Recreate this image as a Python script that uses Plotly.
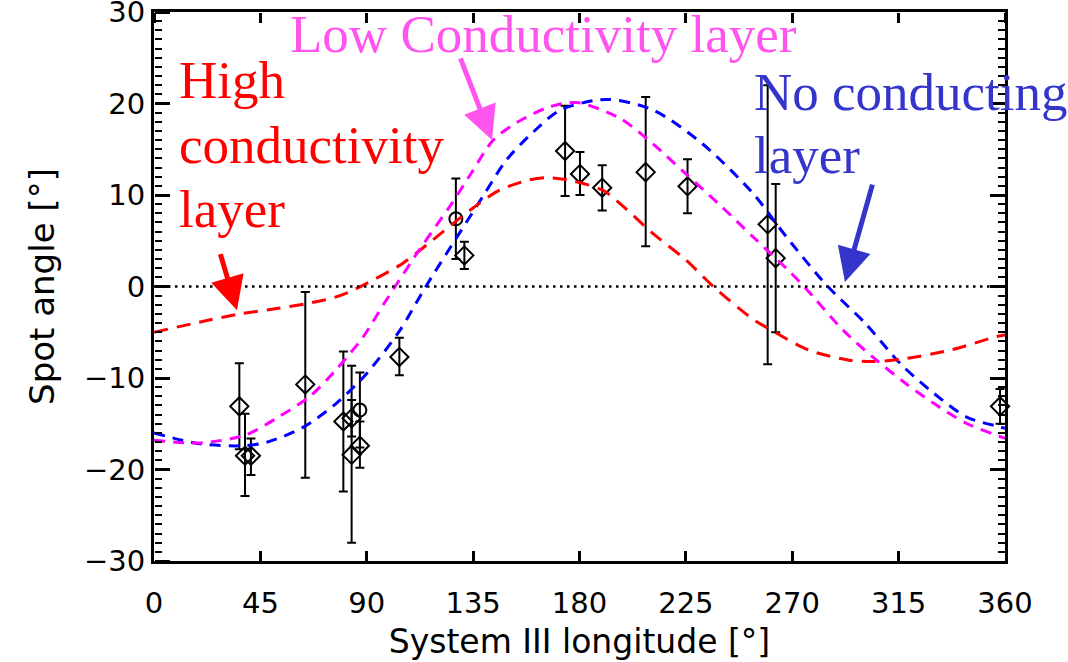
import plotly.graph_objects as go

# Observed spot angles drawn as open diamonds: longitude, angle, upper and lower error-bar ends
dia_lon = [36.1, 38.5, 41.0, 64.0, 80.1, 83.6, 83.6, 87.1, 103.8, 131.3,
           173.9, 180.2, 189.6, 208.0, 225.7, 259.6, 263.0, 357.9]
dia_ang = [-13.1, -18.5, -18.5, -10.7, -14.75, -14.4, -18.4, -17.4, -7.7, 3.4,
           14.8, 12.3, 10.8, 12.5, 10.95, 6.8, 3.1, -13.1]
dia_hi = [-8.4, -13.9, -16.6, -0.6, -7.1, -12.4, -8.65, -14.75, -5.6, 4.9,
          19.75, 14.7, 13.25, 20.7, 13.9, 22.0, 11.2, -11.2]
dia_lo = [-17.8, -22.9, -20.6, -20.9, -22.4, -16.4, -28.0, -19.8, -9.7, 1.9,
          9.9, 10.0, 8.3, 4.4, 8.0, -8.5, -5.0, -15.0]

# Observed spot angles drawn as open circles
circ_lon = [87.1, 127.7]
circ_ang = [-13.5, 7.4]
circ_hi = [-9.4, 11.8]
circ_lo = [-17.6, 3.0]

# Model curves
high_lon = [0, 20, 35, 52, 65, 75, 83, 90, 105, 118, 134, 146, 158, 166, 176, 190,
            200, 211, 225, 237, 253, 260, 277, 294, 304, 316, 337, 356, 360]
high_ang = [-5.0, -3.85, -3.05, -2.4, -1.85, -1.3, -0.55, 0.35, 2.5, 5.1, 8.4, 10.5,
            11.6, 11.9, 11.6, 10.5, 8.4, 5.8, 2.9, -0.1, -3.5, -4.6, -6.95, -8.05,
            -8.2, -7.95, -6.95, -5.5, -5.3]

low_lon = [0, 19.5, 39, 53, 66, 77, 88.5, 97, 102, 113, 125, 134, 143.5, 154, 167.5,
           179, 197, 211, 225, 239, 253.5, 267.6, 275, 291.6, 304, 318, 330, 344, 358, 360]
low_ang = [-16.8, -17.1, -16.2, -14.2, -12.0, -9.1, -5.5, -2.0, 0.0, 4.3, 8.7, 12.3,
           16.0, 18.0, 19.65, 20.1, 18.4, 15.6, 12.3, 9.0, 5.4, 1.95, 0.0, -4.8,
           -7.7, -10.6, -12.8, -15.0, -16.4, -16.6]

none_lon = [0, 19.5, 38, 48, 63, 77, 90, 104, 115, 139, 149, 160.5, 172, 191.5, 211,
            232, 253.5, 267.6, 284.5, 301, 315.6, 330, 344, 358, 360]
none_ang = [-16.0, -17.2, -17.4, -17.0, -15.4, -12.8, -9.5, -4.8, 0.0, 9.8, 13.8, 16.9,
            19.3, 20.45, 19.3, 15.6, 10.15, 5.4, 0.15, -4.05, -8.4, -11.7, -14.3,
            -15.35, -15.5]

# Axis extents and tick positions
x_range = [0, 360]
x_major = [0, 45, 90, 135, 180, 225, 270, 315, 360]
y_range = [-30, 30]
y_major = [-30, -20, -10, 0, 10, 20, 30]
y_minor = [v for v in range(-30, 31) if v % 10 != 0]

RED = "#ff0000"
MAGENTA = "#ff00ff"
BLUE = "#0000ff"
LABEL_MAGENTA = "#ff55ee"
LABEL_BLUE = "#3535cc"
SERIF = "Liberation Serif"
SANS = "DejaVu Sans"

fig = go.Figure()

fig.add_hline(y=0, line=dict(color="black", width=2.5, dash="2.5px,4.5px"))


def add_curve(lon, ang, color, dash, xa="x", ya="y"):
    fig.add_trace(go.Scatter(
        x=lon, y=ang, mode="lines", hoverinfo="skip", showlegend=False,
        xaxis=xa, yaxis=ya,
        line=dict(color=color, width=3, dash=dash, shape="spline", smoothing=0.8),
    ))


# each curve is tied to one of the frame's twin axes; all share the same ranges
add_curve(high_lon, high_ang, RED, "14px,9px", "x", "y3")
add_curve(low_lon, low_ang, MAGENTA, "11px,8px", "x2", "y")
add_curve(none_lon, none_ang, BLUE, "11px,8px", "x", "y2")


def add_points(lon, ang, hi, lo, symbol, size):
    fig.add_trace(go.Scatter(
        x=lon, y=ang, mode="markers", showlegend=False, cliponaxis=False,
        marker=dict(symbol=symbol, size=size, color="black", line=dict(width=2, color="black")),
        error_y=dict(type="data", symmetric=False,
                     array=[h - a for h, a in zip(hi, ang)],
                     arrayminus=[a - l for a, l in zip(ang, lo)],
                     color="black", thickness=2, width=4.5),
    ))


add_points(dia_lon, dia_ang, dia_hi, dia_lo, "diamond-open", 14)
add_points(circ_lon, circ_ang, circ_hi, circ_lo, "circle-open", 13)


def label(text, x, y, color):
    fig.add_annotation(x=x, y=y, xref="x", yref="y", text=text, showarrow=False,
                       xanchor="left", yanchor="middle",
                       font=dict(family=SERIF, size=53, color=color))


label("High", 9.7, 22.6, RED)
label("conductivity", 9.7, 15.5, RED)
label("layer", 9.7, 8.5, RED)
label("Low Conductivity layer", 56.7, 27.6, LABEL_MAGENTA)
label("No conducting", 253, 21.3, LABEL_BLUE)
label("layer", 253, 14.4, LABEL_BLUE)


def arrow(x_tail, y_tail, x_tip, y_tip, color):
    fig.add_annotation(x=x_tip, y=y_tip, ax=x_tail, ay=y_tail,
                       xref="x", yref="y", axref="x", ayref="y", text="",
                       showarrow=True, arrowhead=2, arrowsize=1.35, arrowwidth=5,
                       arrowcolor=color, standoff=0)


arrow(27.9, 3.7, 35.1, -2.6, RED)
arrow(129.4, 25.1, 143.0, 16.0, LABEL_MAGENTA)
arrow(304.1, 11.3, 292.3, 0.5, LABEL_BLUE)

y_minor_ticks = dict(tickmode="array", tickvals=y_minor, ticklen=7, tickwidth=2,
                     tickcolor="black")

fig.update_layout(
    xaxis=dict(
        range=x_range, tickmode="array", tickvals=x_major,
        ticks="inside", ticklen=10, tickwidth=2.5, tickcolor="black",
        showline=True, linewidth=3, linecolor="black", mirror=True,
        showgrid=False, zeroline=False, ticklabelstandoff=14, automargin=False,
        tickfont=dict(family=SANS, size=29, color="black"),
        title=dict(text="System III longitude [°]",
                   font=dict(family=SANS, size=33, color="black"), standoff=12),
    ),
    # top edge: a bottom-sided twin placed at the top, ticks pointing down into the frame
    xaxis2=dict(
        range=x_range, tickmode="array", tickvals=x_major, overlaying="x",
        side="bottom", anchor="free", position=1, showticklabels=False, automargin=False,
        ticks="outside", ticklen=10, tickwidth=2.5, tickcolor="black",
        showline=False, showgrid=False, zeroline=False,
    ),
    yaxis=dict(
        range=y_range, tickmode="array", tickvals=y_major, ticks="",
        showline=True, linewidth=3, linecolor="black", mirror=True,
        showgrid=False, zeroline=False, automargin=False, ticklabeloverflow="allow",
        tickfont=dict(family=SANS, size=29, color="black"),
        title=dict(text="Spot angle [°]",
                   font=dict(family=SANS, size=34, color="black"), standoff=20),
    ),
    # right edge
    yaxis2=dict(
        range=y_range, tickmode="array", tickvals=y_major, overlaying="y", side="right",
        anchor="x", showticklabels=False, automargin=False,
        ticks="inside", ticklen=15, tickwidth=2.5, tickcolor="black",
        showline=True, linewidth=3, linecolor="black", showgrid=False, zeroline=False,
        minor=dict(ticks="inside", **y_minor_ticks),
    ),
    # left edge: a right-sided twin placed at the left, ticks pointing into the frame
    yaxis3=dict(
        range=y_range, tickmode="array", tickvals=y_major, overlaying="y", side="right",
        anchor="free", position=0, showticklabels=False, automargin=False,
        ticks="outside", ticklen=15, tickwidth=2.5, tickcolor="black",
        showline=False, showgrid=False, zeroline=False,
        minor=dict(ticks="outside", **y_minor_ticks),
    ),
    width=1068, height=662,
    margin=dict(l=154, r=63, t=12, b=101),
    paper_bgcolor="white", plot_bgcolor="white",
    showlegend=False,
)

fig.write_html("out.html")
